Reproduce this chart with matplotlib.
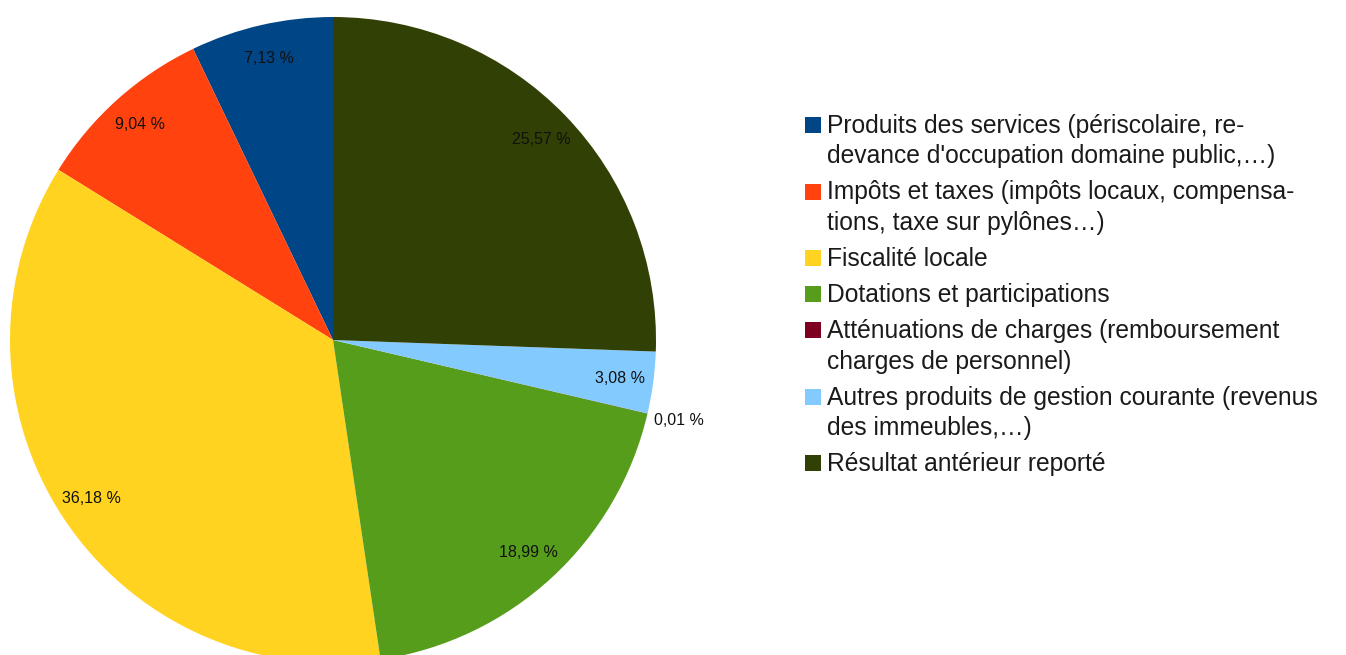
import matplotlib
matplotlib.use("Agg")
import matplotlib.pyplot as plt
from matplotlib.patches import Rectangle
import numpy as np

plt.rcParams['font.family'] = ['Liberation Sans', 'DejaVu Sans']

categories = ["Produits des services (périscolaire, re-\ndevance d'occupation domaine public,…)",
              "Impôts et taxes (impôts locaux, compensa-\ntions, taxe sur pylônes…)",
              "Fiscalité locale",
              "Dotations et participations",
              "Atténuations de charges (remboursement\ncharges de personnel)",
              "Autres produits de gestion courante (revenus\ndes immeubles,…)",
              "Résultat antérieur reporté"]
shares = [7.13, 9.04, 36.18, 18.99, 0.01, 3.08, 25.57]
colors = ['#004586', '#ff420e', '#ffd320', '#579d1c', '#7e0021', '#83caff', '#314004']

W, H = 1346, 655
fig = plt.figure(figsize=(W / 100, H / 100), dpi=100)

# pie: centre (333, 340) px, radius 323 px
cx, cy, r = 333, 340, 323
ax = fig.add_axes([(cx - r) / W, (H - cy - r) / H, 2 * r / W, 2 * r / H])


def fmt(p):
    return f"{p:.2f} %".replace('.', ',')


wedges, texts, autotexts = ax.pie(shares, colors=colors, startangle=90, counterclock=True,
                                  autopct=fmt, pctdistance=0.895,
                                  wedgeprops=dict(linewidth=0),
                                  textprops=dict(fontsize=11.5, color='#111111'))
ax.set_xlim(-1, 1)
ax.set_ylim(-1, 1)
ax.set_aspect('auto')

# tiny slice label goes outside
for w, t, s in zip(wedges, autotexts, shares):
    if s < 1:
        mid = np.deg2rad((w.theta1 + w.theta2) / 2)
        t.set_position((1.1 * np.cos(mid), 1.1 * np.sin(mid)))

# legend drawn by hand so the square sits on the first line
sq = 16
x_sq, x_txt = 805, 827
y = 133
line_step, entry_step = 30.5, 36
for label, c in zip(categories, colors):
    lines = label.split('\n')
    fig.patches.append(Rectangle((x_sq / W, (H - y) / H), sq / W, sq / H,
                                 transform=fig.transFigure, facecolor=c, edgecolor='none'))
    for i, ln in enumerate(lines):
        fig.text(x_txt / W, (H - y - i * line_step) / H, ln, fontsize=17.7,
                 color='#1a1a1a', va='baseline', ha='left')
    y += (len(lines) - 1) * line_step + entry_step

fig.savefig('out.png', dpi=100)
